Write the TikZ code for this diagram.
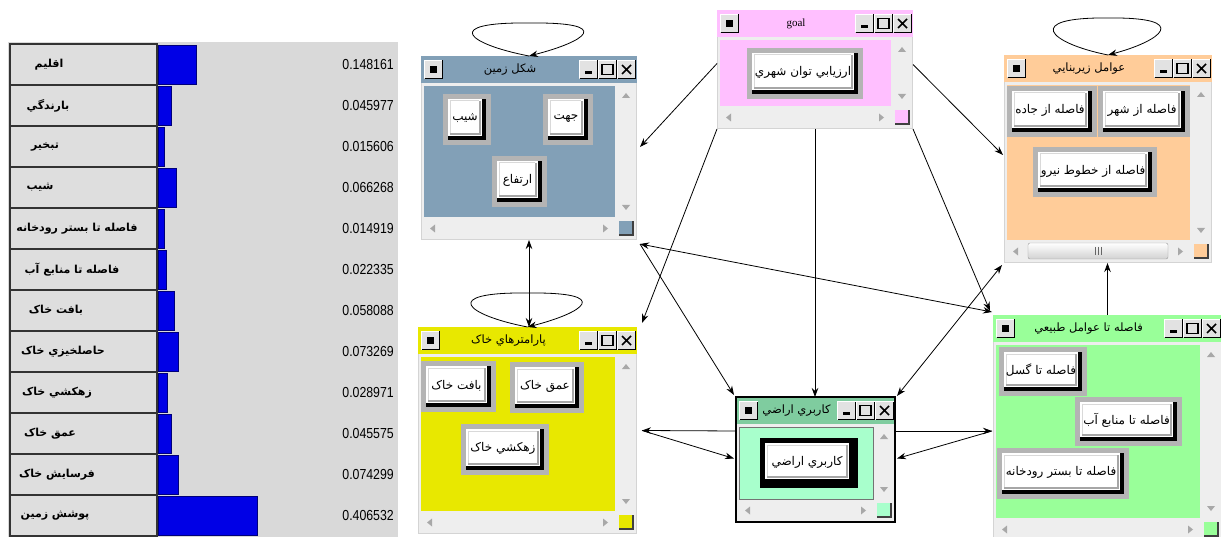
\documentclass[tikz,border=0pt]{standalone}
\usepackage{fontspec}
\usetikzlibrary{arrows.meta,calc,fit}
\TeXXeTstate=1
\newfontfamily\arabicfont[Script=Arabic]{DejaVu Sans}
\newfontfamily\numfont[FakeStretch=0.85]{Liberation Sans}
\newfontfamily\latinserif{Liberation Serif}

\definecolor{shapeC}{HTML}{82A0B7}
\definecolor{goalC}{HTML}{FFBFFF}
\definecolor{infraC}{HTML}{FFCC99}
\definecolor{soilC}{HTML}{E8E800}
\definecolor{landT}{HTML}{7FCC9F}
\definecolor{landB}{HTML}{A8FFCC}
\definecolor{natC}{HTML}{99FF99}
\definecolor{chrome}{HTML}{EEEEEE}
\definecolor{chromeline}{HTML}{D4D4D4}
\definecolor{arrowgray}{HTML}{A8A8A8}
\definecolor{btnframe}{HTML}{B4B4B4}
\definecolor{capface}{HTML}{E2E2E2}
\definecolor{panelbg}{HTML}{D9D9D9}
\definecolor{cellface}{HTML}{DEDEDE}
\definecolor{barblue}{HTML}{0000E6}
\definecolor{baredge}{HTML}{00007A}

\newcommand{\titlefont}{\arabicfont\fontsize{11.5}{13}\selectfont}
\newcommand{\btnfont}{\arabicfont\fontsize{12}{14}\selectfont}
\newcommand{\labfont}{\arabicfont\bfseries\fontsize{11}{13}\selectfont}
\newcommand{\valfont}{\numfont\fontsize{14.5}{16}\selectfont}

% raised caption button, top-left corner at (#1,#2), 19x19
\newcommand{\capbtn}[2]{%
  \fill[capface] (#1,#2) rectangle ++(19,19);
  \draw[white, line width=1pt] (#1+0.5,#2+18.5) -- (#1+0.5,#2+0.5) -- (#1+18.5,#2+0.5);
  \draw[black, line width=1pt] (#1+0.5,#2+18.5) -- (#1+18.5,#2+18.5) -- (#1+18.5,#2+0.5);
}

% application window: name, x0, y0, x1, y1, caption colour, body colour, caption text
\newcommand{\appwin}[8]{%
  \pgfmathsetmacro\W{#4-#2}%
  \pgfmathsetmacro\H{#5-#3}%
  \node[winframe, fit={(#2,#3) (#4,#5)}] (#1) {};
  \begin{scope}[shift={(#2,#3)}]
    \fill[chrome] (0,0) rectangle (\W,\H);
    \draw[chromeline] (0.5,0.5) rectangle (\W-0.5,\H-0.5);
    \fill[#6] (0,0) rectangle (\W,27);
    \fill[#7] (3,30) rectangle (\W-22,\H-23);
    % scroll arrows
    \fill[arrowgray] (\W-11,37) -- (\W-15,42) -- (\W-7,42) -- cycle;
    \fill[arrowgray] (\W-11,\H-30) -- (\W-15,\H-35) -- (\W-7,\H-35) -- cycle;
    \fill[arrowgray] (9,\H-11.5) -- (14,\H-15.5) -- (14,\H-7.5) -- cycle;
    \fill[arrowgray] (\W-29,\H-11.5) -- (\W-34,\H-15.5) -- (\W-34,\H-7.5) -- cycle;
    % size grip
    \fill[#7] (\W-18,\H-19) rectangle (\W-4,\H-5);
    \draw[black!75, line width=1.2pt] (\W-18,\H-5) -- (\W-4,\H-5) -- (\W-4,\H-19);
    % caption buttons
    \capbtn{3}{4}
    \fill[black] (9,10) rectangle ++(7,7);
    \capbtn{\W-58}{4}
    \fill[black] (\W-52,15) rectangle ++(7,3);
    \capbtn{\W-39}{4}
    \draw[black, line width=1.2pt] (\W-35,8.5) rectangle (\W-24,18.5);
    \capbtn{\W-20}{4}
    \draw[black, line width=1.6pt] (\W-15,9) -- (\W-6,18) (\W-6,9) -- (\W-15,18);
    \node[inner sep=0pt, font=\titlefont] (#1-title) at ({\W/2-19},14) {#8};
  \end{scope}}

% push button inside a window: name, x0, y0, x1, y1, frame colour, text
\newcommand{\pushbtn}[7]{%
  \fill[#6] (#2,#3) rectangle (#4,#5);
  \fill[black] (#2+5,#3+5) rectangle (#4-5,#5-5);
  \fill[white] (#2+5,#3+5) rectangle (#4-9,#5-9);
  \draw[black!35, line width=1.2pt] (#2+7,#5-11) -- (#4-11,#5-11) -- (#4-11,#3+7);
  \draw[black!15, line width=1pt] (#2+7,#5-12) -- (#2+7,#3+7) -- (#4-12,#3+7);
  \node[inner sep=1pt, font=\btnfont] (#1) at ({(#2+#4)/2-2},{(#3+#5)/2-1}) {#7};
}

\tikzset{
  winframe/.style={inner sep=0pt, outer sep=0pt},
  tip/.tip={Stealth[length=9pt,width=6.5pt]},
  link/.style={-tip, line width=0.8pt, black},
  bilink/.style={tip-tip, line width=0.8pt, black},
  cell/.style={draw=black!80, line width=1.2pt, fill=cellface},
  bar/.style={fill=barblue, draw=baredge, line width=0.8pt},
}

\begin{document}
\begin{tikzpicture}[x=1pt,y=-1pt]
\useasboundingbox (0,0) rectangle (1221,537);
\clip (0,0) rectangle (1221,537);
\fill[white] (0,0) rectangle (1221,537);

% ---------- weight chart ----------
\fill[panelbg] (8,42) rectangle (398,537);
\foreach \i/\lab/\cx/\val in {
  0/\beginR اقليم\endR/49/0.148161,
  1/\beginR بارندگي\endR/48/0.045977,
  2/\beginR تبخير\endR/45/0.015606,
  3/\beginR شيب\endR/40/0.066268,
  4/\beginR فاصله تا بستر رودخانه\endR/77/0.014919,
  5/\beginR فاصله تا منابع آب\endR/72/0.022335,
  6/\beginR بافت خاک\endR/56/0.058088,
  7/\beginR حاصلخيزي خاک\endR/63/0.073269,
  8/\beginR زهکشي خاک\endR/57/0.028971,
  9/\beginR عمق خاک\endR/50/0.045575,
  10/\beginR فرسايش خاک\endR/57/0.074299,
  11/\beginR پوشش زمين\endR/55/0.406532}{
  \pgfmathsetmacro\yt{44+41*\i}
  \draw[cell] (10,\yt) rectangle (157,\yt+41);
  \draw[bar] (158,\yt+1) rectangle ({161+236*\val},\yt+40);
  \node[inner sep=0pt, font=\labfont] (crit\i) at (\cx,\yt+20.5) {\lab};
  \node[anchor=east, inner sep=0pt, font=\valfont] (weight\i) at (394,\yt+21) {\val};
}

% ---------- windows ----------
\appwin{shape}{421}{56}{637}{240}{shapeC}{shapeC}{\beginR شكل زمين\endR}
\pushbtn{slope}{443}{94}{491}{145}{btnframe}{\beginR شيب\endR}
\pushbtn{aspect}{543}{94}{593}{145}{btnframe}{\beginR جهت\endR}
\pushbtn{elev}{492}{156}{547}{207}{btnframe}{\beginR ارتفاع\endR}

\appwin{goal}{717}{10}{913}{129}{goalC}{goalC}{\latinserif\fontsize{11}{13}\selectfont goal}
\pushbtn{goalbtn}{747}{48}{863}{99}{btnframe}{\beginR ارزيابي توان شهري\endR}

\appwin{infra}{1004}{55}{1212}{263}{infraC}{infraC}{\beginR عوامل زيربنايي\endR}
\pushbtn{road}{1007}{86}{1097}{137}{btnframe}{\beginR فاصله از جاده\endR}
\pushbtn{city}{1098}{86}{1190}{137}{btnframe}{\beginR فاصله از شهر\endR}
\pushbtn{power}{1033}{147}{1157}{197}{btnframe}{\beginR فاصله از خطوط نيرو\endR}
% horizontal scroll thumb
\draw[rounded corners=2pt, top color=white, bottom color=black!18, draw=black!40]
  (1028,243) rectangle (1168,259);
\draw[black!60, line width=0.6pt] (1095,247) -- (1095,255) (1098,247) -- (1098,255) (1101,247) -- (1101,255);

\appwin{soil}{418}{327}{637}{534}{soilC}{soilC}{\beginR پارامترهاي خاک\endR}
\pushbtn{texture}{421}{361}{496}{412}{btnframe}{\beginR بافت خاک\endR}
\pushbtn{depth}{510}{362}{584}{413}{btnframe}{\beginR عمق خاک\endR}
\pushbtn{drain}{461}{424}{549}{475}{btnframe}{\beginR زهکشي خاک\endR}

\appwin{land}{736}{397}{895}{522}{landT}{landB}{\beginR كاربري اراضي\endR}
\draw[black!55, line width=1pt] (739,427) rectangle (873,499);
\draw[black, line width=2.2pt] (land.north west) rectangle (land.south east);
\pushbtn{landbtn}{760}{438}{858}{488}{black}{\beginR كاربري اراضي\endR}

\appwin{natural}{993}{315}{1222}{541}{natC}{natC}{\beginR فاصله تا عوامل طبيعي\endR}
\pushbtn{fault}{999}{347}{1087}{396}{btnframe}{\beginR فاصله تا گسل\endR}
\pushbtn{water}{1075}{397}{1182}{446}{btnframe}{\beginR فاصله تا منابع آب\endR}
\pushbtn{river}{997}{448}{1129}{499}{btnframe}{\beginR فاصله تا بستر رودخانه\endR}

% ---------- self loops ----------
\draw[link] (shape.north) .. controls ($(shape.north)+(-62,-12)$) and ($(shape.north)+(-88,-34)$) .. ($(shape.north)+(0,-33)$)
  .. controls ($(shape.north)+(88,-34)$) and ($(shape.north)+(55,-14)$) .. (shape.north);
\draw[link] (infra.north) .. controls ($(infra.north)+(-60,-12)$) and ($(infra.north)+(-85,-38)$) .. ($(infra.north)+(0,-37)$)
  .. controls ($(infra.north)+(85,-38)$) and ($(infra.north)+(53,-14)$) .. (infra.north);
\draw[link] (soil.north) .. controls ($(soil.north)+(-62,-12)$) and ($(soil.north)+(-88,-35)$) .. ($(soil.north)+(0,-34)$)
  .. controls ($(soil.north)+(88,-35)$) and ($(soil.north)+(55,-14)$) .. (soil.north);

% ---------- links ----------
\draw[link] ([yshift=6pt]goal.west) -- ([xshift=3pt,yshift=1pt]shape.east);
\draw[link] ([yshift=5pt]goal.east) -- ([xshift=-1pt,yshift=4pt]infra.west);
\draw[link] (goal.south west) -- ([xshift=5pt,yshift=4pt]soil.north east);
\draw[link] (goal.south) -- (goal.south |- land.north);
\draw[link] (goal.south east) -- ([xshift=-3pt,yshift=4pt]natural.north west);
\draw[bilink] ([xshift=3pt,yshift=-4pt]shape.south east) -- ([xshift=-1pt,yshift=3pt]natural.north west);
\draw[link] ([xshift=3pt,yshift=-4pt]shape.south east) -- ([xshift=-2pt,yshift=2pt]land.north west);
\draw[bilink] ([xshift=2pt,yshift=1pt]land.north east) -- ([xshift=-2pt,yshift=-2pt]infra.south west);
\draw[link] (natural.north) -- (natural.north |- infra.south);
\draw[bilink] (shape.south) -- (shape.south |- soil.north);
\draw[link] ([yshift=28.5pt]land.west) -- ([xshift=5pt]soil.east);
\draw[link] ([xshift=5pt]soil.east) -- ([xshift=-2pt,yshift=1pt]land.west);
\draw[link] ([yshift=28.5pt]land.east) -- ([xshift=-1pt,yshift=-3pt]natural.west);
\draw[link] ([xshift=-1pt,yshift=-3pt]natural.west) -- ([xshift=2pt,yshift=1pt]land.east);
\end{tikzpicture}
\end{document}
